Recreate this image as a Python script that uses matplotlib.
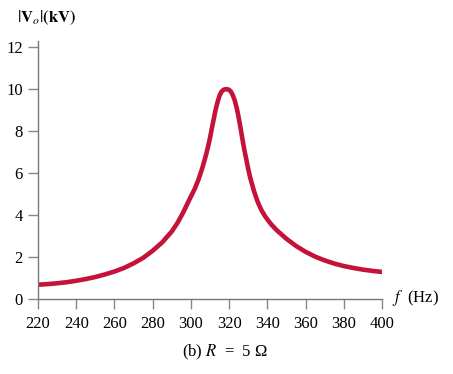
import matplotlib
matplotlib.use('Agg')
import matplotlib.pyplot as plt

# frequency (Hz) and |Vo| (kV)
freq = [220, 225, 230, 235, 240, 245, 250, 255, 260, 265, 270, 275, 280, 285,
        290, 293, 296, 299, 302, 304, 306, 308, 309, 310, 311, 312, 313, 314, 315,
        316, 317, 318, 319, 320, 321, 322, 323, 324, 325, 326, 327, 328, 329,
        330, 331, 333, 335, 337, 339, 342, 345, 350, 355, 360, 365, 370, 375,
        380, 385, 390, 395, 400]
volts = [0.68, 0.71, 0.75, 0.80, 0.87, 0.95, 1.05, 1.17, 1.31, 1.48, 1.70, 1.96,
         2.30, 2.70, 3.22, 3.63, 4.13, 4.70, 5.25, 5.70, 6.25, 6.90, 7.27, 7.68,
         8.15, 8.60, 9.05, 9.40, 9.70, 9.88, 9.97, 10.0, 10.0, 9.97, 9.88, 9.70,
         9.45, 9.10, 8.65, 8.15, 7.60, 7.10, 6.65, 6.20, 5.80, 5.15, 4.62, 4.22,
         3.92, 3.56, 3.27, 2.87, 2.53, 2.25, 2.02, 1.84, 1.69, 1.57, 1.48, 1.40,
         1.34, 1.29]

xticks = [220, 240, 260, 280, 300, 320, 340, 360, 380, 400]
yticks = [0, 2, 4, 6, 8, 10, 12]

plt.rcParams['font.family'] = ['Liberation Serif', 'DejaVu Serif']
plt.rcParams['mathtext.fontset'] = 'stix'

fig = plt.figure(figsize=(4.53, 3.74), dpi=100)
ax = fig.add_axes([38 / 453, 1 - 299 / 374, 344 / 453, 258 / 374])

ax.plot(freq, volts, color='#c4123a', lw=3.3, solid_joinstyle='round')

ax.set_xlim(220, 400)
ax.set_ylim(0, 12.3)
ax.set_xticks(xticks)
ax.set_yticks(yticks)

for s in ['top', 'right']:
    ax.spines[s].set_visible(False)
for s in ['left', 'bottom']:
    ax.spines[s].set_color('#777777')
    ax.spines[s].set_linewidth(1.0)

ax.tick_params(axis='x', direction='out', length=7, width=1.0, color='#888888',
               labelsize=12, pad=5)
ax.tick_params(axis='y', direction='out', length=7, width=1.0, color='#888888',
               labelsize=12, pad=4)

fig.text(17 / 453, 1 - 18 / 374, r'$|\mathbf{V}_{o}|\mathbf{(kV)}$', fontsize=12,
         ha='left', va='center')
fig.text(392 / 453, 1 - 298 / 374, r'$f$  (Hz)', fontsize=12, ha='left', va='center')
fig.text(225 / 453, 1 - 352 / 374, r'(b) $R$  =  5 Ω', fontsize=12, ha='center', va='center')

fig.savefig('out.png', dpi=100)
